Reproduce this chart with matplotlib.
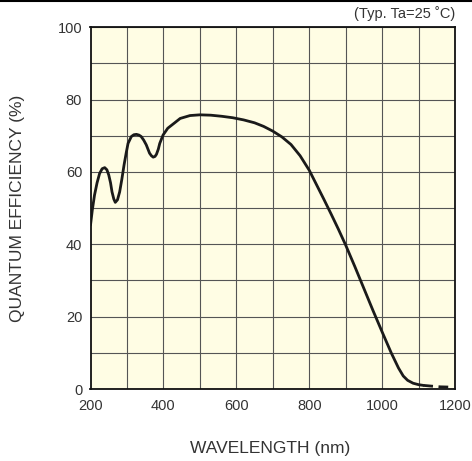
import matplotlib
matplotlib.use("Agg")
import matplotlib.pyplot as plt
from matplotlib.lines import Line2D
import numpy as np

plt.rcParams['font.family'] = ['Liberation Sans', 'DejaVu Sans']

# Solid part of curve (wavelength nm, QE %)
wl_solid = [200, 205, 211, 218, 225, 232, 239, 245, 250, 255, 259, 264, 268, 274, 280, 286,
            292, 298, 303, 312, 319, 326, 333, 339, 346, 353, 362, 367, 372, 377, 381, 386,
            390, 399, 412, 431, 446, 473, 500, 530, 560, 590, 620, 650, 675, 700, 725, 750,
            775, 800, 820, 840, 860, 880, 900, 925, 950, 975, 1000, 1025, 1045, 1058, 1070,
            1085, 1100, 1113]
qe_solid = [45.3, 49.5, 53.6, 57.0, 59.6, 60.9, 61.2, 60.6, 59.2, 57.0, 54.5, 52.5, 51.6, 52.3, 54.5, 58.0,
            61.9, 65.3, 67.9, 69.8, 70.3, 70.4, 70.2, 69.8, 68.8, 67.5, 65.2, 64.5, 64.1, 64.3, 64.9, 66.3,
            67.9, 70.2, 72.1, 73.6, 74.8, 75.6, 75.8, 75.7, 75.4, 75.0, 74.4, 73.6, 72.6, 71.3, 69.7, 67.6,
            64.5, 60.5, 56.5, 52.5, 48.4, 44.2, 39.8, 33.9, 27.8, 21.7, 15.8, 10.0, 5.8, 3.6, 2.4,
            1.6, 1.2, 1.0]
# Dashed tail
wl_dash = [1113, 1135, 1160, 1195]
qe_dash = [1.0, 0.8, 0.6, 0.5]

x_ticks = [200, 400, 600, 800, 1000, 1200]
y_ticks = [0, 20, 40, 60, 80, 100]

fig = plt.figure(figsize=(4.72, 4.61), dpi=100)
ax = fig.add_axes([90.5/472, 1-389/461, (455-90.5)/472, (389-27.3)/461])
ax.set_facecolor('#FFFDE4')

ax.plot(wl_solid, qe_solid, color='#1a1a1a', lw=2.0, solid_capstyle='round',
        solid_joinstyle='round', zorder=3)
ax.plot(wl_dash, qe_dash, color='#1a1a1a', lw=2.0, ls=(0, (3.5, 2)), zorder=3)

ax.set_xlim(200, 1200)
ax.set_ylim(0, 100)
ax.set_xticks(np.arange(200, 1201, 100))
ax.set_xticklabels([str(v) if v in x_ticks else '' for v in range(200, 1201, 100)])
ax.set_yticks(np.arange(0, 101, 10))
ax.set_yticklabels([str(v) if v in y_ticks else '' for v in range(0, 101, 10)])
ax.grid(True, color='#555555', lw=0.8, zorder=1)
ax.tick_params(length=0, labelsize=10.5, colors='#333333')
ax.tick_params(axis='x', pad=7)
ax.tick_params(axis='y', pad=6)
for s in ax.spines.values():
    s.set_linewidth(1.3)
    s.set_color('#111111')
    s.set_zorder(4)

fig.text(270/472, 1-448/461, 'WAVELENGTH (nm)', ha='center', va='center', fontsize=12.5, color='#333333')
fig.text(18/472, 1-208/461, 'QUANTUM EFFICIENCY (%)', ha='center', va='center', rotation=90,
         fontsize=12.5, color='#333333')
fig.text(455/472, 1-14/461, '(Typ. Ta=25 \u02daC)', ha='right', va='center', fontsize=10.5, color='#333333')
fig.add_artist(Line2D([0, 1], [1-1/461, 1-1/461], transform=fig.transFigure, color='black', lw=1.5))

fig.savefig('out.png', dpi=100)
